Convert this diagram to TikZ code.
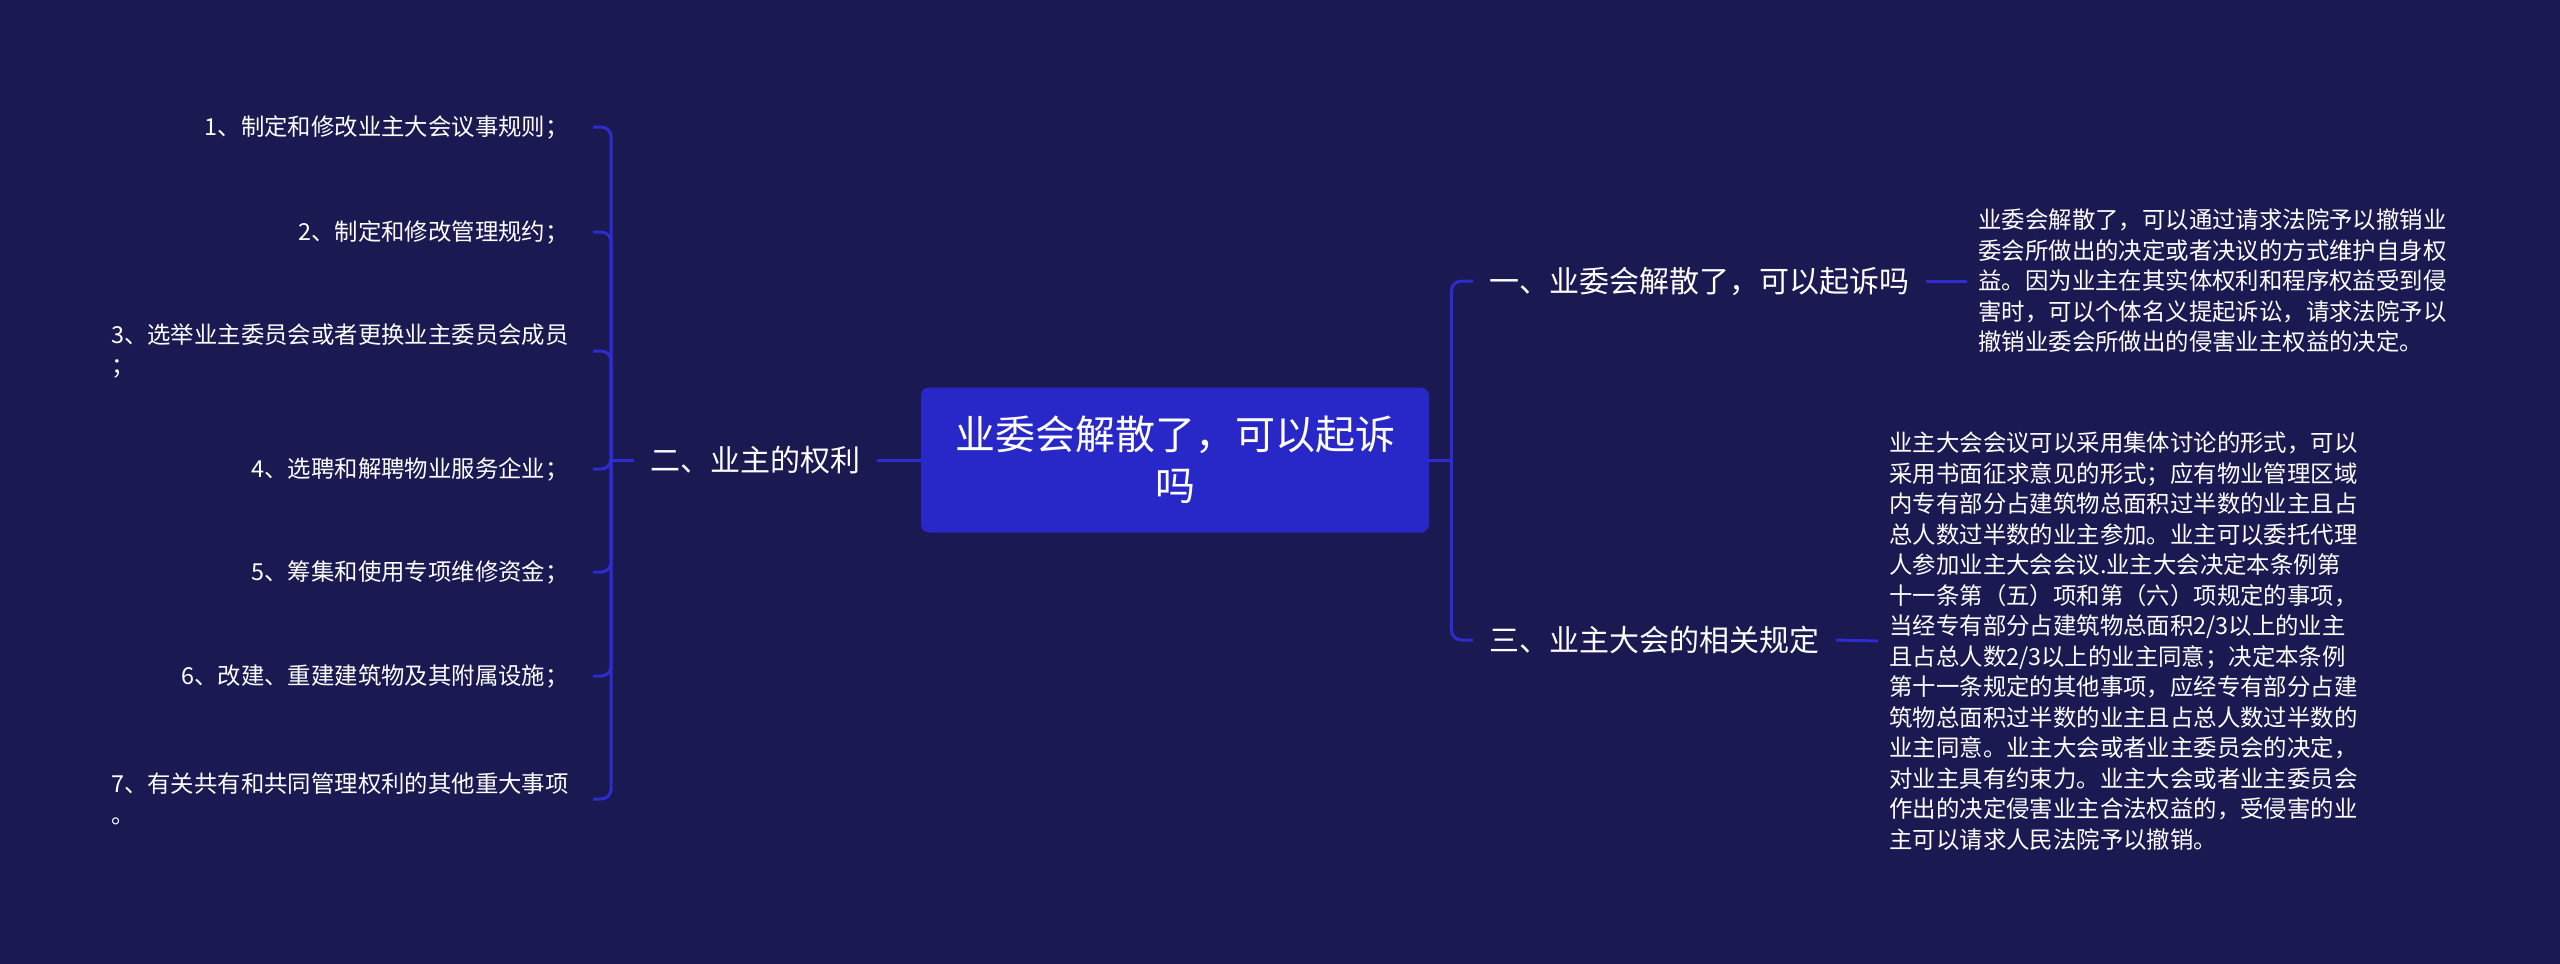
\documentclass[tikz,border=0pt]{standalone}
\usepackage{fontspec}
\setmainfont{Noto Sans CJK SC}
\definecolor{bgnavy}{RGB}{26,25,82}
\definecolor{rootblue}{RGB}{40,40,200}
\definecolor{linkblue}{RGB}{44,44,208}

\begin{document}
\begin{tikzpicture}[x=0.5pt, y=-0.5pt,
  root/.style={fill=rootblue, rounded corners=4pt, text=white, minimum width=254pt,
    minimum height=72.5pt, align=center, font=\fontsize{20}{25.5}\selectfont},
  branch/.style={text=white, inner xsep=8pt, font=\fontsize{15}{18}\selectfont},
  leaf/.style={text=white, align=left, inner xsep=12pt, font=\fontsize{11.7}{15.25}\selectfont},
  note/.style={text=white, align=left, inner xsep=5.5pt, font=\fontsize{11.7}{15.25}\selectfont},
  link/.style={draw=linkblue, line width=1.5pt, rounded corners=5pt}]
  % Background
  \fill[bgnavy] (0,0) rectangle (2560,964);
  \useasboundingbox (0,0) rectangle (2560,964);

  % Root
  \node[root] (root) at (1175,460) {业委会解散了，可以起诉\\吗};

  % Left branch
  \node[branch, anchor=east] (rights) at (877,460) {二、业主的权利};
  \node[leaf, anchor=east] (r1) at (593,127) {1、制定和修改业主大会议事规则；};
  \node[leaf, anchor=east] (r2) at (593,232) {2、制定和修改管理规约；};
  \node[leaf, anchor=east] (r3) at (593,351) {3、选举业主委员会或者更换业主委员会成员\\；};
  \node[leaf, anchor=east] (r4) at (593,469) {4、选聘和解聘物业服务企业；};
  \node[leaf, anchor=east] (r5) at (593,572) {5、筹集和使用专项维修资金；};
  \node[leaf, anchor=east] (r6) at (593,676) {6、改建、重建建筑物及其附属设施；};
  \node[leaf, anchor=east] (r7) at (593,799) {7、有关共有和共同管理权利的其他重大事项\\。};

  % Right branch
  \node[branch, anchor=west] (sue) at (1473,281) {一、业委会解散了，可以起诉吗};
  \node[branch, anchor=west] (rules) at (1473,640) {三、业主大会的相关规定};
  \node[note, anchor=west] (sue-note) at (1967,281) {业委会解散了，可以通过请求法院予以撤销业\\
    委会所做出的决定或者决议的方式维护自身权\\
    益。因为业主在其实体权利和程序权益受到侵\\
    害时，可以个体名义提起诉讼，请求法院予以\\
    撤销业委会所做出的侵害业主权益的决定。};
  \node[note, anchor=west] (rules-note) at (1878,641) {业主大会会议可以采用集体讨论的形式，可以\\
    采用书面征求意见的形式；应有物业管理区域\\
    内专有部分占建筑物总面积过半数的业主且占\\
    总人数过半数的业主参加。业主可以委托代理\\
    人参加业主大会会议.业主大会决定本条例第\\
    十一条第（五）项和第（六）项规定的事项，\\
    当经专有部分占建筑物总面积2/3以上的业主\\
    且占总人数2/3以上的业主同意；决定本条例\\
    第十一条规定的其他事项，应经专有部分占建\\
    筑物总面积过半数的业主且占总人数过半数的\\
    业主同意。业主大会或者业主委员会的决定，\\
    对业主具有约束力。业主大会或者业主委员会\\
    作出的决定侵害业主合法权益的，受侵害的业\\
    主可以请求人民法院予以撤销。};

  % Connectors
  \path (rights.west) ++(-23,0) coordinate (lj);
  \path (root.east) ++(22,0) coordinate (rj);
  \draw[link] (root.west) -- (rights.east);
  \draw[link] (rights.west) -- (lj);
  \foreach \n in {r1,r2,r3,r4,r5,r6,r7}
    \draw[link] (lj) |- (\n.east);
  \draw[link] (root.east) -- (rj);
  \draw[link] (rj) |- (sue.west);
  \draw[link] (rj) |- (rules.west);
  \draw[link] (sue.east) -- (sue-note.west);
  \draw[link] (rules.east) -- (rules-note.west);
\end{tikzpicture}
\end{document}
